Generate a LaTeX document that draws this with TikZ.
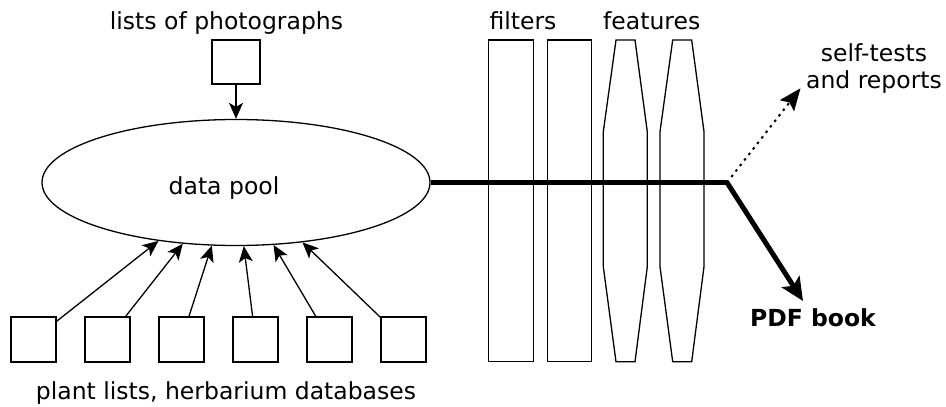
\documentclass[tikz,border=0pt]{standalone}
\usepackage{fontspec}
\setmainfont{DejaVu Sans}
\usetikzlibrary{arrows.meta,shapes.geometric}
\begin{document}
\begin{tikzpicture}[x=1pt,y=-1pt,
  every node/.style={font=\fontsize{23.5}{28}\selectfont},
  thin line/.style={line width=1.3pt},
  src/.style={draw,thin line,minimum width=45pt,minimum height=45pt,inner sep=0pt},
  lbl/.style={anchor=base,inner sep=0pt},
  thinarrow/.style={thin line,-{Stealth[length=16pt,width=14pt,inset=4pt]}},
  thickline/.style={line width=5pt,line join=miter},
]
\useasboundingbox (0,0) rectangle (946,407);
% data pool
\node[draw,thin line,ellipse,minimum width=388pt,minimum height=126pt,inner sep=0pt] (pool) at (236,182.5) {};
\node[lbl] (pooltext) at (224,194) {data pool};
% photographs
\node[lbl] (phototext) at (226.5,29) {lists of photographs};
\node[src,minimum width=48pt,minimum height=44pt] (photo) at (236,62) {};
\draw[thinarrow] (photo) -- (pool.north);
% sources
\foreach \i/\x/\a in {1/33.5/217, 2/107.5/229.4, 3/181.5/249.8, 4/255.5/277.2, 5/329.5/301.6, 6/403.5/318.6} {
  \node[src] (b\i) at (\x,339.5) {};
  \draw[thinarrow] (b\i) -- (pool.\a);
}
\node[lbl] (srctext) at (226,399) {plant lists, herbarium databases};
% filters
\node[lbl] (filtertext) at (523,29) {filters};
\draw[thin line] (488.3,40) rectangle (533.3,361.7);
\draw[thin line] (547.3,40) rectangle (591.7,361.7);
% features
\node[lbl] (featuretext) at (651.7,29) {features};
\draw[thin line] (616,40) -- (635,40) -- (647.3,131.7) -- (647.3,266.7) -- (635,361.7) -- (616,361.7) -- (603.3,266.7) -- (603.3,131.7) -- cycle;
\draw[thin line] (672.7,40) -- (691.7,40) -- (704,131.7) -- (704,266.7) -- (691.7,361.7) -- (672.7,361.7) -- (660,266.7) -- (660,131.7) -- cycle;
% outputs
\coordinate (split) at (727,182.5);
\coordinate (pdfend) at (803,301);
\coordinate (testend) at (800.5,88.3);
\node[lbl,align=center] (tests) at (874,88.3) {self-tests\\[-1pt]and reports};
\node[lbl,font=\fontsize{23.5}{28}\selectfont\bfseries] (pdf) at (813,326.7) {PDF book};
\draw[thickline] (pool.east) -- (split);
\draw[thickline,-{Stealth[length=23pt,width=21pt,inset=5pt]}] (split) -- (pdfend);
\draw[line width=2pt,dash pattern=on 2.5pt off 4.5pt,-{Stealth[length=22pt,width=18pt,inset=4pt]}] (split) -- (testend);
\end{tikzpicture}
\end{document}
